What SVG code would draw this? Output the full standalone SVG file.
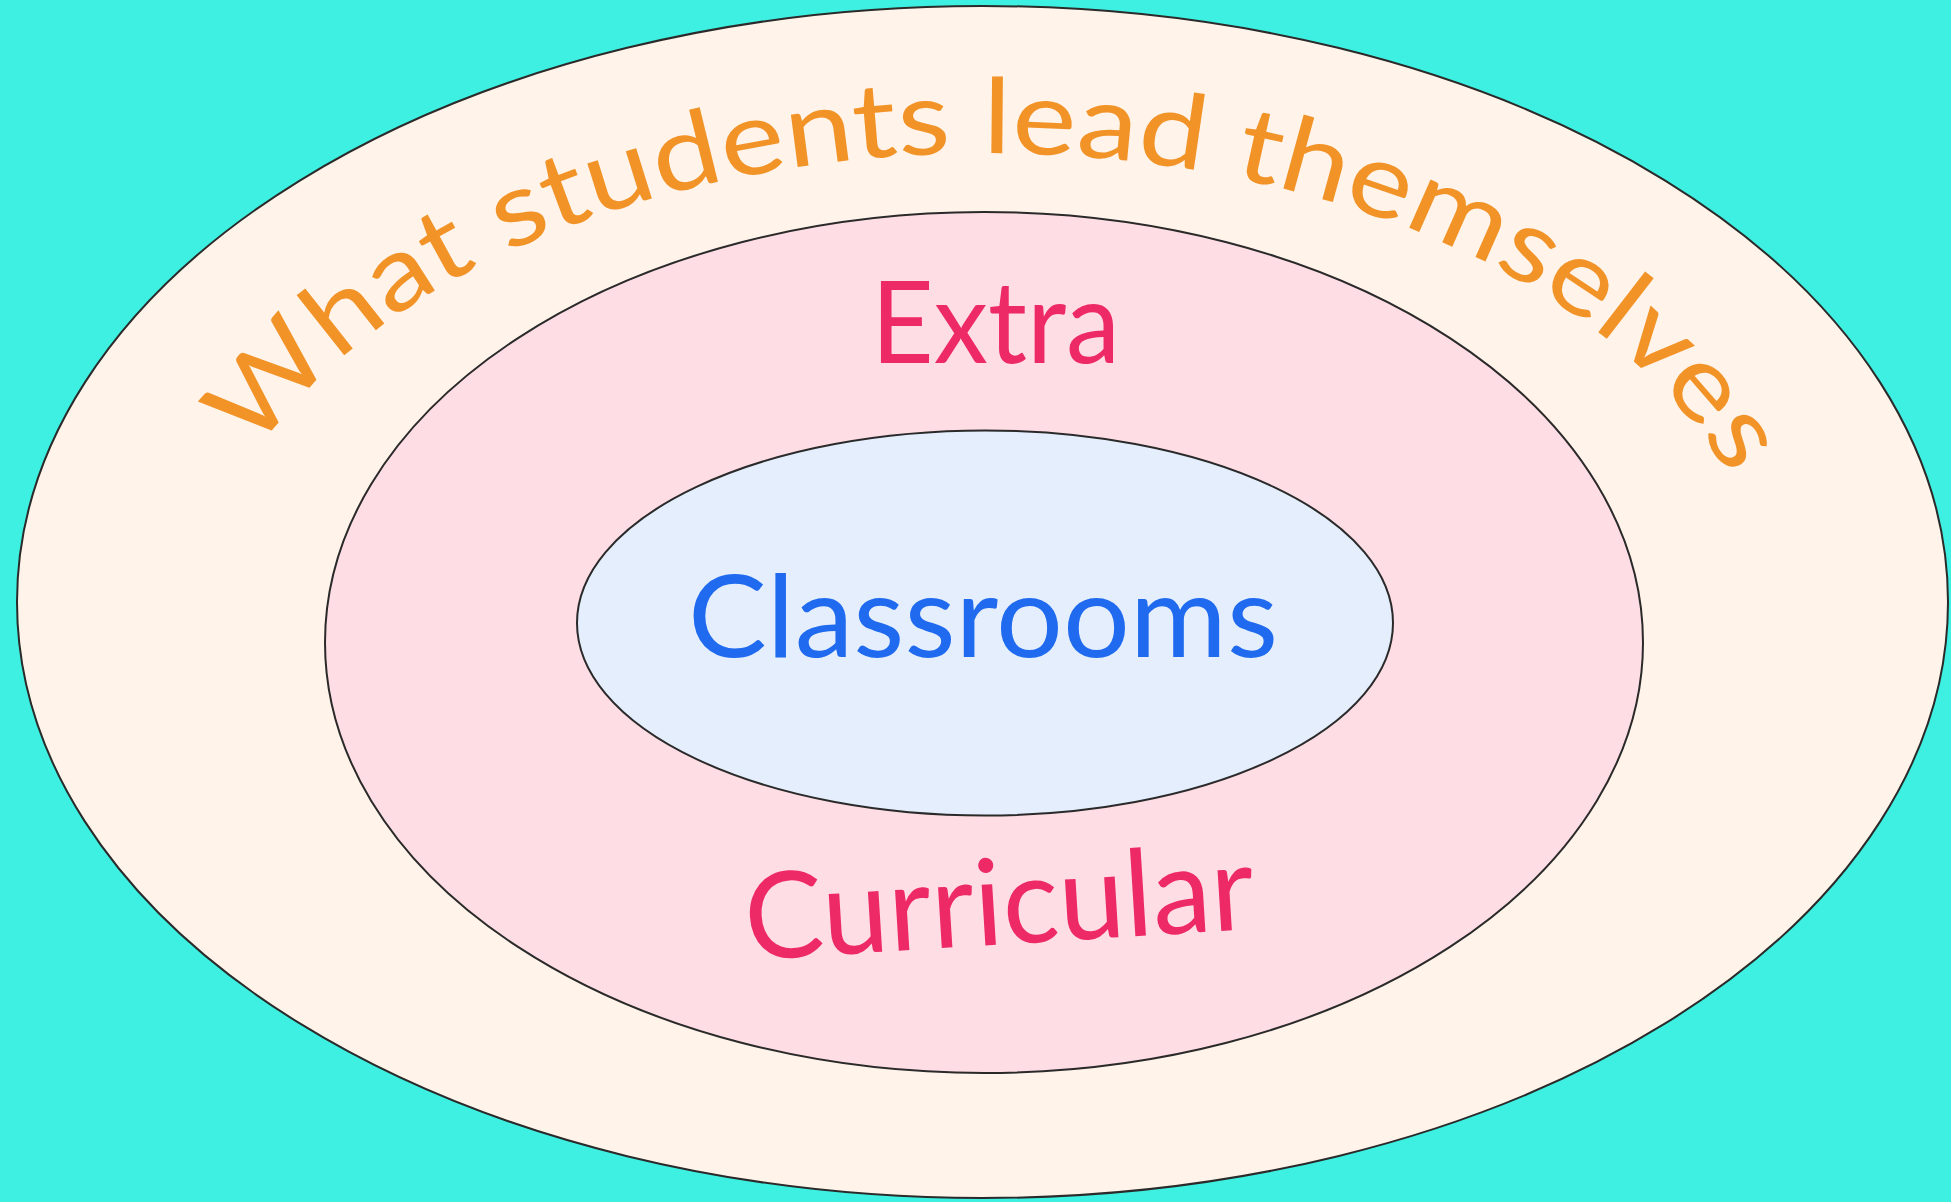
<svg xmlns="http://www.w3.org/2000/svg" width="1951" height="1202" viewBox="0 0 1951 1202">
  <style>
    .ring { stroke: #2a2a2a; stroke-width: 2; }
    .lbl { font-family: "Lato", "Liberation Sans", sans-serif; font-weight: normal; }
  </style>
  <defs>
    <path id="arc" d="M 256 455 A 786 480 0 0 1 1770 600"/>
  </defs>
  <rect x="0" y="0" width="1951" height="1202" fill="#3ef0e1"/>
  <g id="outer">
    <ellipse class="ring" cx="982.5" cy="602" rx="965.5" ry="596" fill="#fff3ea"/>
    <text class="lbl" font-size="104" font-weight="300" fill="#f29328"><textPath href="#arc" textLength="1665" lengthAdjust="spacingAndGlyphs">What students lead themselves</textPath></text>
  </g>
  <g id="middle">
    <ellipse class="ring" cx="984" cy="642.5" rx="659" ry="430.5" fill="#fedde5"/>
    <text class="lbl" x="871" y="363" font-size="115" fill="#ee2a66" textLength="249" lengthAdjust="spacingAndGlyphs">Extra</text>
    <text class="lbl" x="747" y="960" font-size="120" fill="#ee2a66" textLength="510" lengthAdjust="spacingAndGlyphs" transform="rotate(-3.5 747 960)">Curricular</text>
  </g>
  <g id="inner">
    <ellipse class="ring" cx="985" cy="623" rx="408" ry="192.5" fill="#e4eefc"/>
    <text class="lbl" x="688" y="657" font-size="115" fill="#1f6aef" textLength="590" lengthAdjust="spacingAndGlyphs">Classrooms</text>
  </g>
</svg>
